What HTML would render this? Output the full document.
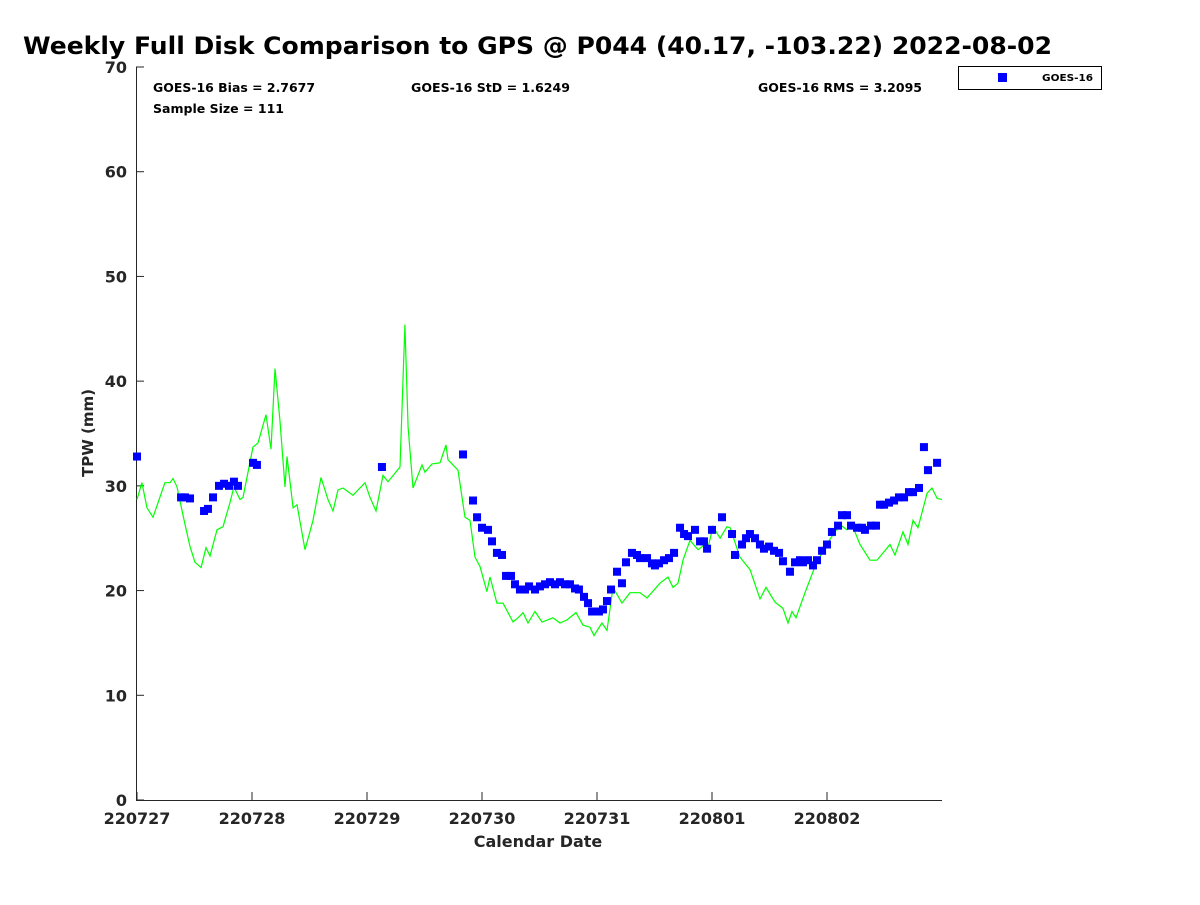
<!DOCTYPE html>
<html><head><meta charset="utf-8"><style>
body{margin:0;background:#fff}
svg text{font-family:"DejaVu Sans","Liberation Sans",sans-serif;font-weight:bold}
</style></head><body>
<svg id="chart" width="1200" height="900" xmlns="http://www.w3.org/2000/svg">
<rect width="1200" height="900" fill="#fff"/>
<text x="23" y="54" font-size="24" fill="#000" textLength="1029" lengthAdjust="spacingAndGlyphs">Weekly Full Disk Comparison to GPS @ P044 (40.17, -103.22) 2022-08-02</text>
<g id="axes"></g>
<g id="gps-line"></g>
<g id="goes-points"></g>
<text x="153" y="92" font-size="12" textLength="162" lengthAdjust="spacingAndGlyphs">GOES-16 Bias = 2.7677</text>
<text x="153" y="113" font-size="12" textLength="131" lengthAdjust="spacingAndGlyphs">Sample Size = 111</text>
<text x="411" y="92" font-size="12" textLength="159" lengthAdjust="spacingAndGlyphs">GOES-16 StD = 1.6249</text>
<text x="758" y="92" font-size="12" textLength="164" lengthAdjust="spacingAndGlyphs">GOES-16 RMS = 3.2095</text>
<g>
<rect x="958.5" y="66.5" width="143" height="23" fill="#fff" stroke="#000" stroke-width="1"/>
<rect x="998" y="73" width="9" height="9" fill="#0000ff"/>
<text x="1042" y="81" font-size="10" textLength="51" lengthAdjust="spacingAndGlyphs">GOES-16</text>
</g>
<text x="538" y="847" font-size="16" text-anchor="middle" fill="#262626">Calendar Date</text>
<text transform="translate(93,433) rotate(-90)" font-size="15" text-anchor="middle" fill="#262626">TPW (mm)</text>
</svg>
<script>
const xTickLabels = ["220727","220728","220729","220730","220731","220801","220802"];
const yTickLabels = [0,10,20,30,40,50,60,70];
const gpsDays = [0,0.043,0.087,0.139,0.243,0.287,0.313,0.348,0.4,0.461,0.504,0.557,0.6,0.635,0.696,0.748,0.809,0.843,0.896,0.922,1.009,1.052,1.122,1.165,1.2,1.243,1.287,1.304,1.357,1.391,1.461,1.53,1.6,1.661,1.704,1.748,1.791,1.878,1.922,1.983,2.026,2.078,2.139,2.183,2.287,2.33,2.357,2.4,2.478,2.504,2.565,2.635,2.687,2.704,2.748,2.791,2.852,2.896,2.939,2.983,3.043,3.07,3.13,3.183,3.27,3.313,3.357,3.4,3.461,3.522,3.617,3.678,3.739,3.817,3.878,3.939,3.974,4.043,4.087,4.139,4.217,4.287,4.374,4.435,4.548,4.617,4.661,4.704,4.748,4.809,4.878,4.939,4.965,5.009,5.07,5.13,5.157,5.243,5.33,5.417,5.47,5.548,5.617,5.661,5.696,5.73,5.809,5.896,6.0,6.113,6.174,6.217,6.287,6.374,6.435,6.548,6.591,6.661,6.704,6.748,6.791,6.87,6.913,6.957,7.0];
const gpsValues = [28.7,30.3,27.9,27.0,30.3,30.3,30.7,29.9,27.2,24.2,22.7,22.2,24.1,23.3,25.8,26.1,28.4,29.9,28.7,28.9,33.7,34.1,36.8,33.5,41.2,36.3,29.9,32.8,27.9,28.2,23.9,26.7,30.8,28.7,27.6,29.6,29.8,29.1,29.6,30.3,28.9,27.6,31.0,30.4,31.8,45.4,35.6,29.8,32.0,31.3,32.1,32.2,33.9,32.5,32.0,31.5,27.0,26.7,23.2,22.3,19.9,21.3,18.8,18.8,17.0,17.4,17.9,16.9,18.0,17.0,17.4,16.9,17.2,17.9,16.7,16.5,15.7,16.9,16.2,20.3,18.8,19.8,19.8,19.3,20.7,21.3,20.3,20.7,22.9,24.8,23.9,24.4,24.1,26.1,25.0,26.1,26.0,23.2,22.0,19.2,20.3,18.9,18.3,16.9,18.0,17.4,19.8,22.3,24.5,26.3,25.8,26.3,24.4,22.9,22.9,24.4,23.4,25.6,24.4,26.7,26.0,29.3,29.8,28.8,28.7];
const goesDays = [0,0.383,0.417,0.461,0.583,0.617,0.661,0.713,0.757,0.8,0.843,0.878,1.009,1.043,2.13,2.835,2.922,2.957,3.0,3.052,3.087,3.13,3.174,3.209,3.252,3.287,3.33,3.374,3.409,3.461,3.504,3.548,3.591,3.635,3.678,3.722,3.765,3.809,3.843,3.887,3.922,3.957,4.017,4.052,4.087,4.122,4.174,4.217,4.252,4.304,4.348,4.374,4.435,4.478,4.504,4.539,4.583,4.626,4.67,4.722,4.757,4.791,4.852,4.896,4.93,4.957,5.0,5.087,5.174,5.2,5.261,5.296,5.33,5.374,5.417,5.452,5.496,5.539,5.583,5.617,5.678,5.722,5.765,5.791,5.835,5.878,5.913,5.957,6.0,6.043,6.096,6.13,6.174,6.209,6.261,6.304,6.33,6.383,6.426,6.461,6.496,6.539,6.583,6.626,6.67,6.713,6.748,6.8,6.843,6.878,6.957];
const goesValues = [32.8,28.9,28.9,28.8,27.6,27.8,28.9,30.0,30.2,30.0,30.4,30.0,32.2,32.0,31.8,33.0,28.6,27.0,26.0,25.8,24.7,23.6,23.4,21.4,21.4,20.6,20.1,20.1,20.4,20.1,20.4,20.6,20.8,20.6,20.8,20.6,20.6,20.2,20.1,19.4,18.8,18.0,18.0,18.2,19.0,20.1,21.8,20.7,22.7,23.6,23.4,23.1,23.1,22.6,22.4,22.6,22.9,23.1,23.6,26.0,25.4,25.2,25.8,24.7,24.7,24.0,25.8,27.0,25.4,23.4,24.4,25.0,25.4,25.0,24.4,24.0,24.2,23.8,23.6,22.8,21.8,22.7,22.9,22.7,22.9,22.4,22.9,23.8,24.4,25.6,26.2,27.2,27.2,26.2,26.0,26.0,25.8,26.2,26.2,28.2,28.2,28.4,28.6,28.9,28.9,29.4,29.4,29.8,33.7,31.5,32.2];

const NS = "http://www.w3.org/2000/svg";
const X0 = 137, PXDAY = 115, Y0 = 800, PXMM = 733 / 70;
function xs(d){ return X0 + d * PXDAY; }
function ys(v){ return Y0 - v * PXMM; }
function mk(tag, attrs, parent){ const e = document.createElementNS(NS, tag); for (const k in attrs) e.setAttribute(k, attrs[k]); parent.appendChild(e); return e; }

const axes = document.getElementById("axes");
const yAxis = mk("line", {x1:136.5, y1:67, x2:136.5, y2:800.5, stroke:"#262626", "stroke-width":1}, axes);


const xAxis = mk("line", {x1:136, y1:800.5, x2:942, y2:800.5, stroke:"#262626", "stroke-width":1}, axes);


yTickLabels.forEach(v => {
  const y = ys(v);
  const t = mk("line", {x1:136, y1:y, x2:144, y2:y, stroke:"#262626"}, axes);
  
  
  const l = mk("text", {x:127, y:y + 6, "font-size":16, "text-anchor":"end", fill:"#262626"}, axes);
  
  
  l.textContent = v;
});
xTickLabels.forEach((s, i) => {
  const x = xs(i);
  const t = mk("line", {x1:x, y1:800, x2:x, y2:792, stroke:"#262626"}, axes);
  
  
  const l = mk("text", {x:x, y:824, "font-size":16, "text-anchor":"middle", fill:"#262626"}, axes);
  
  
  l.textContent = s;
});

const lg = document.getElementById("gps-line");
const pts = gpsDays.map((d, i) => xs(d).toFixed(1) + "," + ys(gpsValues[i]).toFixed(1)).join(" ");
const pl = mk("polyline", {points:pts, fill:"none", stroke:"#00ff00", "stroke-width":1.2}, lg);



const pg = document.getElementById("goes-points");
goesDays.forEach((d, i) => {
  const r = mk("rect", {x:xs(d) - 4, y:ys(goesValues[i]) - 4, width:8, height:8, fill:"#0000ff"}, pg);
  
  
});
</script>
</body></html>
